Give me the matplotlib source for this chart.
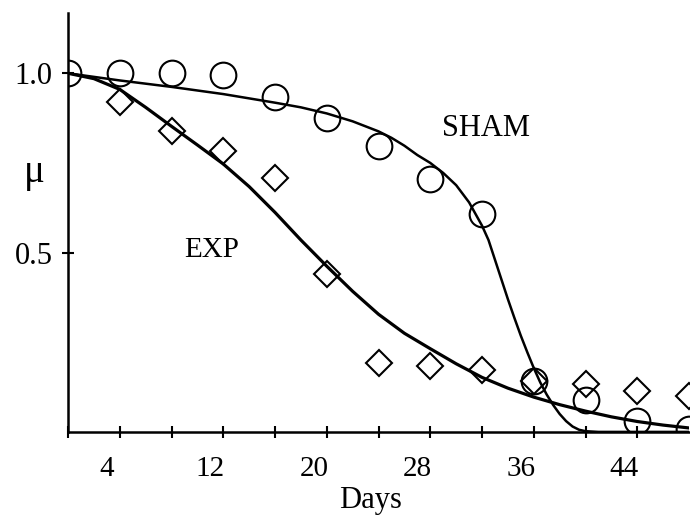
import matplotlib
matplotlib.use("Agg")
from matplotlib import pyplot as plt

plt.rcParams['font.family'] = ['Liberation Serif', 'DejaVu Serif']

# measured points (day, mu)
days = [1, 5, 9, 13, 17, 21, 25, 29, 33, 37, 41, 45, 49]
sham = [1.0, 1.0, 1.0, 0.995, 0.933, 0.874, 0.796, 0.704, 0.609, 0.142, 0.089, 0.031, 0.008]
exp_days = [5, 9, 13, 17, 21, 25, 29, 33, 37, 41, 45, 49]
exp_pts = [0.919, 0.838, 0.782, 0.709, 0.441, 0.193, 0.184, 0.173, 0.142, 0.134, 0.115, 0.10]

# fitted curves
sham_fit_days = [1, 3, 5, 9, 13, 17, 19, 21, 23, 25, 26, 27, 28, 29, 30, 31, 32, 33, 33.5, 34,
                 34.5, 35, 35.5, 36, 36.5, 37, 37.5, 38, 38.5, 39, 39.5, 40, 40.5, 41, 42, 49]
sham_fit = [1.0, 0.99, 0.98, 0.962, 0.942, 0.918, 0.905, 0.888, 0.866, 0.838, 0.82, 0.798, 0.772,
            0.75, 0.722, 0.688, 0.64, 0.575, 0.535, 0.48, 0.425, 0.37, 0.318, 0.268, 0.222, 0.178,
            0.138, 0.104, 0.075, 0.05, 0.03, 0.015, 0.006, 0.002, 0.0, 0.0]
exp_fit_days = [1, 3, 5, 7, 9, 11, 13, 15, 17, 19, 21, 23, 25, 27, 29, 31, 33, 35, 37, 39, 41, 43, 45, 47, 49]
exp_fit = [1.0, 0.985, 0.955, 0.905, 0.852, 0.80, 0.747, 0.684, 0.612, 0.535, 0.462, 0.392, 0.328,
           0.275, 0.232, 0.19, 0.152, 0.122, 0.097, 0.076, 0.058, 0.042, 0.029, 0.019, 0.011]

x_labels = [4, 12, 20, 28, 36, 44]

fig = plt.figure(figsize=(6.9, 5.21), dpi=100)
ax = fig.add_axes([0.0986, 0.171, 0.9, 0.804])

ax.plot(sham_fit_days, sham_fit, color='black', lw=1.8)
ax.plot(exp_fit_days, exp_fit, color='black', lw=2.3)
ax.plot(days, sham, 'o', ms=18.5, mfc='none', mec='black', mew=1.5)
ax.plot(exp_days, exp_pts, 'D', ms=13.7, mfc='none', mec='black', mew=1.5)

ax.set_xlim(1, 49)
ax.set_ylim(0, 1.168)

ax.spines['top'].set_visible(False)
ax.spines['right'].set_visible(False)
ax.spines['left'].set_linewidth(1.8)
ax.spines['bottom'].set_linewidth(1.8)

ax.set_xticks(list(range(1, 48, 4)))
ax.set_xticklabels([])
ax.tick_params(axis='x', which='major', direction='inout', length=8, width=1.5)
ax.set_xticks(x_labels, minor=True)
ax.set_xticklabels([str(v) for v in x_labels], minor=True, fontsize=21)
ax.tick_params(axis='x', which='minor', length=0, pad=17)

ax.set_yticks([0.5, 1.0])
ax.set_yticklabels(['0.5', '1.0'], fontsize=22)
ax.tick_params(axis='y', direction='inout', length=8, width=1.5, pad=7)

ax.set_xlabel('Days', fontsize=22)
ax.xaxis.set_label_coords(0.487, -0.13)

ax.text(-0.055, 0.62, 'μ', transform=ax.transAxes, fontsize=28, ha='center', va='center')
ax.text(33.3, 0.846, 'SHAM', fontsize=22, ha='center', va='center')
ax.text(12.1, 0.506, 'EXP', fontsize=21, ha='center', va='center')

fig.savefig('out.png', dpi=100)
